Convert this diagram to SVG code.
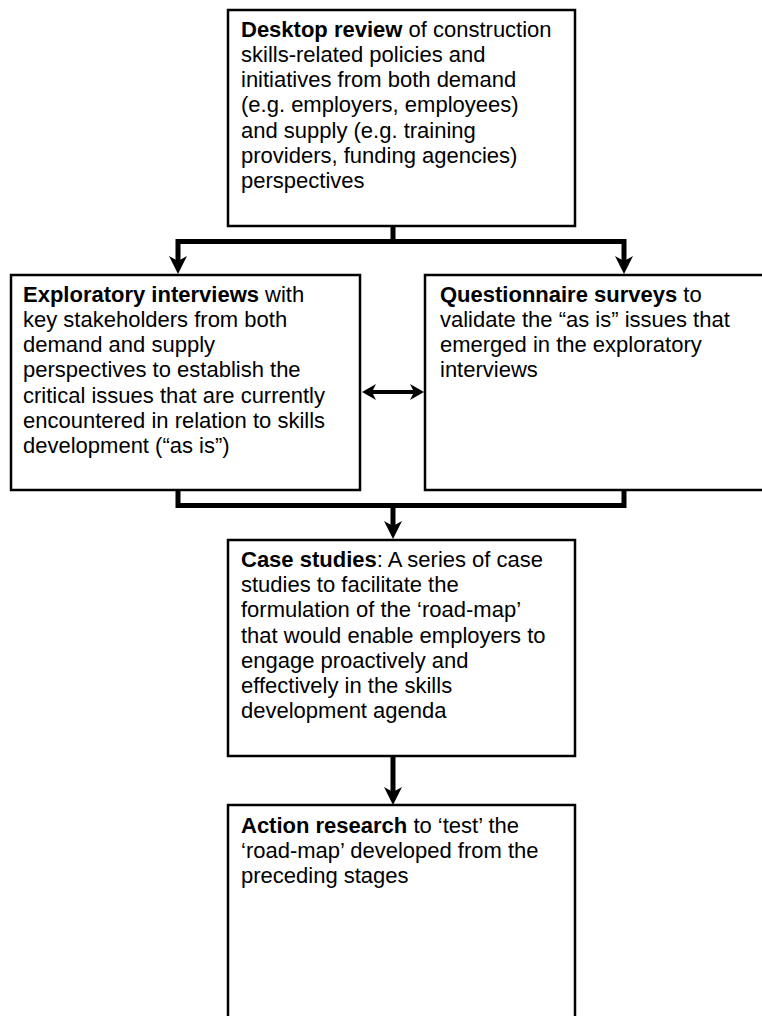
<svg xmlns="http://www.w3.org/2000/svg" width="762" height="1016" viewBox="0 0 762 1016">
<style>
.box{fill:#fff;stroke:#000;stroke-width:2.5}
.t{font-family:"Liberation Sans",Arial,sans-serif;font-size:22px;fill:#000}
.b{font-weight:bold}
.c{fill:none;stroke:#000;stroke-width:5}
.h{fill:#000}
</style>
<rect width="762" height="1016" fill="#fff"/>
<g id="connectors">
<polyline class="c" points="393,226 393,241.5"/>
<polyline class="c" points="178,262 178,241.5 624,241.5 624,262"/>
<path class="h" d="M169,256 L178,261 L187,256 L178,274 Z"/>
<path class="h" d="M615,256 L624,261 L633,256 L624,274 Z"/>
<polyline class="c" points="178,490 178,505.5 624,505.5 624,490"/>
<polyline class="c" points="393,505.5 393,527"/>
<path class="h" d="M384,521 L393,526 L402,521 L393,539 Z"/>
<polyline class="c" points="393,756 393,793"/>
<path class="h" d="M384,787 L393,792 L402,787 L393,805 Z"/>
<line class="c" x1="372" y1="392" x2="414" y2="392" style="stroke-width:4"/>
<path class="h" d="M362,392 L376,384 L372,392 L376,400 Z"/>
<path class="h" d="M424,392 L410,384 L414,392 L410,400 Z"/>
</g>
<g id="desktop">
<rect class="box" x="228" y="10" width="347" height="216"/>
<text class="t" x="241" y="37"><tspan class="b">Desktop review</tspan> of construction</text>
<text class="t" x="241" y="62">skills-related policies and</text>
<text class="t" x="241" y="87">initiatives from both demand</text>
<text class="t" x="241" y="112">(e.g. employers, employees)</text>
<text class="t" x="241" y="138">and supply (e.g. training</text>
<text class="t" x="241" y="163">providers, funding agencies)</text>
<text class="t" x="241" y="188">perspectives</text>
</g>
<g id="exploratory">
<rect class="box" x="11" y="275" width="349" height="215"/>
<text class="t" x="23" y="302"><tspan class="b">Exploratory interviews</tspan> with</text>
<text class="t" x="23" y="327">key stakeholders from both</text>
<text class="t" x="23" y="352">demand and supply</text>
<text class="t" x="23" y="377">perspectives to establish the</text>
<text class="t" x="23" y="403">critical issues that are currently</text>
<text class="t" x="23" y="428">encountered in relation to skills</text>
<text class="t" x="23" y="453">development (“as is”)</text>
</g>
<g id="questionnaire">
<rect class="box" x="425" y="275" width="345" height="215"/>
<text class="t" x="440" y="302"><tspan class="b">Questionnaire surveys</tspan> to</text>
<text class="t" x="440" y="327">validate the “as is” issues that</text>
<text class="t" x="440" y="352">emerged in the exploratory</text>
<text class="t" x="440" y="377">interviews</text>
</g>
<g id="case">
<rect class="box" x="228" y="540" width="347" height="216"/>
<text class="t" x="241" y="567"><tspan class="b">Case studies</tspan>: A series of case</text>
<text class="t" x="241" y="592">studies to facilitate the</text>
<text class="t" x="241" y="617">formulation of the ‘road-map’</text>
<text class="t" x="241" y="643">that would enable employers to</text>
<text class="t" x="241" y="668">engage proactively and</text>
<text class="t" x="241" y="693">effectively in the skills</text>
<text class="t" x="241" y="718">development agenda</text>
</g>
<g id="action">
<rect class="box" x="228" y="805" width="347" height="220"/>
<text class="t" x="241" y="833"><tspan class="b">Action research</tspan> to ‘test’ the</text>
<text class="t" x="241" y="858">‘road-map’ developed from the</text>
<text class="t" x="241" y="883">preceding stages</text>
</g>
</svg>
